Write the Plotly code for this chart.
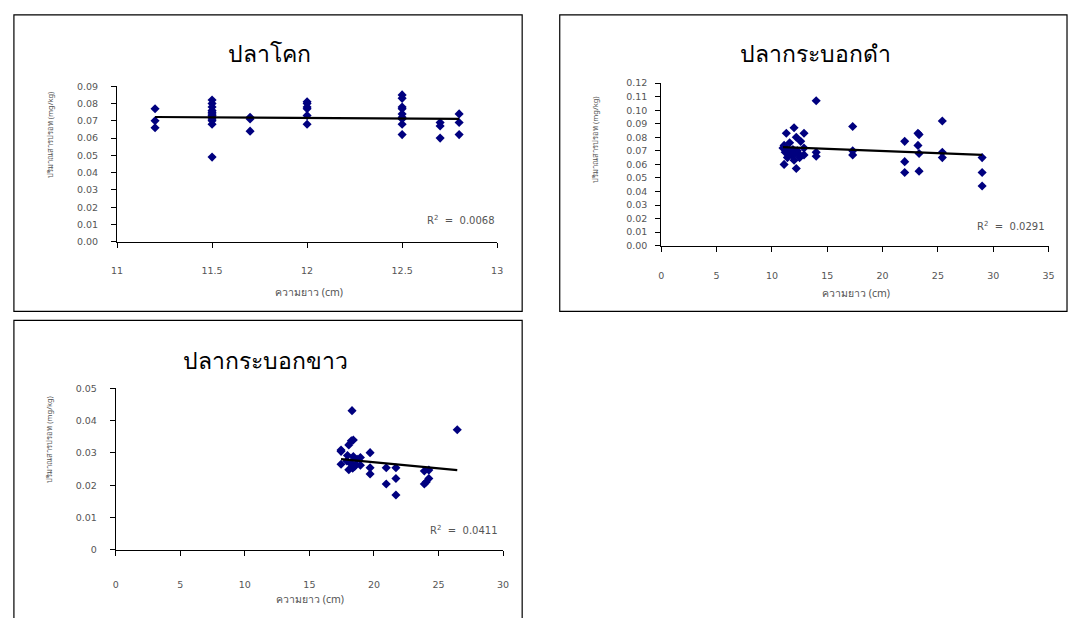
import plotly.graph_objects as go

W, H = 1074, 618

# ---------------- data ----------------
titles = ["ปลาโคก", "ปลากระบอกดำ", "ปลากระบอกขาว"]
x_title = "ความยาว (cm)"
y_title = "ปริมาณสารปรอท (mg/kg)"
r2_labels = ["0.0068", "0.0291", "0.0411"]

kok_len = [11.2, 11.2, 11.2,
           11.5, 11.5, 11.5, 11.5, 11.5, 11.5, 11.5, 11.5, 11.5, 11.5, 11.5, 11.5,
           11.7, 11.7, 11.7,
           12.0, 12.0, 12.0, 12.0, 12.0, 12.0,
           12.5, 12.5, 12.5, 12.5, 12.5, 12.5, 12.5, 12.5, 12.5,
           12.7, 12.7, 12.7,
           12.8, 12.8, 12.8]
kok_hg = [0.077, 0.070, 0.066,
          0.082, 0.080, 0.078, 0.076, 0.075, 0.074, 0.073, 0.072, 0.071, 0.070, 0.068, 0.049,
          0.072, 0.071, 0.064,
          0.081, 0.080, 0.078, 0.077, 0.073, 0.068,
          0.085, 0.083, 0.078, 0.077, 0.074, 0.072, 0.071, 0.068, 0.062,
          0.069, 0.067, 0.060,
          0.074, 0.069, 0.062]
kok_trend_len = [11.2, 12.8]
kok_trend_hg = [0.0722, 0.0711]

dam_len = [14.0, 11.3, 12.0, 12.9, 12.2, 12.6, 11.6, 11.1, 11.0, 11.4, 12.9, 11.2, 12.3,
           11.8, 12.5, 12.9, 11.4, 12.0, 12.5, 11.1, 12.2, 14.0, 14.0, 11.7, 12.1, 11.9, 12.6,
           17.3, 17.3, 17.3, 22.0, 22.0, 22.0, 23.2, 23.3, 23.2, 23.3, 23.3,
           25.4, 25.4, 25.4, 29.0, 29.0, 29.0]
dam_hg = [0.107, 0.083, 0.087, 0.083, 0.080, 0.077, 0.076, 0.074, 0.072, 0.071, 0.072, 0.069, 0.070,
          0.067, 0.067, 0.067, 0.065, 0.063, 0.065, 0.060, 0.057, 0.069, 0.066, 0.069, 0.068, 0.071, 0.066,
          0.088, 0.070, 0.067, 0.077, 0.062, 0.054, 0.083, 0.082, 0.074, 0.068, 0.055,
          0.092, 0.069, 0.065, 0.065, 0.054, 0.044]
dam_trend_len = [11.0, 29.0]
dam_trend_hg = [0.0728, 0.0670]

khao_len = [18.3, 26.45, 18.4, 18.25, 18.05, 17.45, 17.45, 19.7, 17.95, 18.4, 18.95,
            17.45, 18.2, 18.55, 18.95, 18.05, 18.35, 19.7, 19.7, 20.95, 21.7, 21.7,
            20.95, 21.7, 23.9, 24.25, 23.9, 24.05, 24.25, 17.9, 18.7, 18.25, 18.5]
khao_hg = [0.0431, 0.0372, 0.0340, 0.0338, 0.0325, 0.0309, 0.0305, 0.0301, 0.0292, 0.0289, 0.0286,
           0.0265, 0.0270, 0.0263, 0.0262, 0.0248, 0.0253, 0.0254, 0.0235, 0.0254, 0.0254, 0.0221,
           0.0204, 0.0170, 0.0244, 0.0247, 0.0204, 0.0210, 0.0221, 0.0275, 0.0280, 0.0265, 0.0258]
khao_trend_len = [17.45, 26.45]
khao_trend_hg = [0.0281, 0.0247]

x_ranges = [[11, 13], [0, 35], [0, 30]]
x_dticks = [0.5, 5, 5]
y_ranges = [[0, 0.09], [0, 0.12], [0, 0.05]]
y_dticks = [0.01, 0.01, 0.01]
y_formats = [".2f", ".2f", None]
y3_tickvals = [0, 0.01, 0.02, 0.03, 0.04, 0.05]
y3_ticktext = ["0", "0.01", "0.02", "0.03", "0.04", "0.05"]

series = [(kok_len, kok_hg, kok_trend_len, kok_trend_hg),
          (dam_len, dam_hg, dam_trend_len, dam_trend_hg),
          (khao_len, khao_hg, khao_trend_len, khao_trend_hg)]

# ---------------- layout geometry (pixels) ----------------
boxes = [(8, 9, 522, 311), (560, 9, 1073, 311), (8, 320, 522, 630)]
plots = [(112.3, 81.7, 496.7, 240), (662.7, 78.5, 1054.3, 244), (111, 389.3, 502.7, 553.7)]
title_pos = [(266, 48), (819, 48), (262, 360)]
xt_pos = [(306, 291), (860, 292), (307, 604)]
yt_pos = [(44, 132), (595, 136), (44, 442)]
r2_pos = [(497, 218), (1053, 224), (500, 534)]
x_standoffs = [15, 16, 21]
y_standoffs = [11, 6, 11]

fig = go.Figure()
GRAY = "#555555"
FONT = "DejaVu Sans, Liberation Sans, sans-serif"
TFONT = "Noto Sans, DejaVu Sans, sans-serif"

for i, (xs, ys, tx_, ty_) in enumerate(series):
    n = "" if i == 0 else str(i + 1)
    xa, ya = "x" + n, "y" + n
    fig.add_trace(go.Scatter(x=xs, y=ys, mode="markers", xaxis=xa, yaxis=ya,
                             marker=dict(symbol="diamond", size=7, color="#00007f",
                                         line=dict(width=0)),
                             showlegend=False, hoverinfo="x+y"))
    fig.add_trace(go.Scatter(x=tx_, y=ty_, mode="lines", xaxis=xa, yaxis=ya,
                             line=dict(color="black", width=2.2),
                             showlegend=False, hoverinfo="skip"))
    x0, y0, x1, y1 = plots[i]
    ax_common = dict(showgrid=False, zeroline=False, showline=True, linecolor="black",
                     linewidth=1, ticks="outside", ticklen=5, tickcolor="black",
                     tickfont=dict(family=FONT, size=9.5, color=GRAY), fixedrange=True)
    xkw = dict(ax_common, range=x_ranges[i], dtick=x_dticks[i], tick0=x_ranges[i][0],
               domain=[x0 / W, x1 / W], anchor=ya, ticklabelstandoff=x_standoffs[i])
    ykw = dict(ax_common, range=y_ranges[i], dtick=y_dticks[i], tick0=0,
               domain=[(H - y1) / H, (H - y0) / H], anchor=xa,
               ticklabelstandoff=y_standoffs[i])
    if y_formats[i]:
        ykw["tickformat"] = y_formats[i]
    else:
        ykw["tickmode"] = "array"
        ykw["tickvals"] = y3_tickvals
        ykw["ticktext"] = y3_ticktext
    fig.layout["xaxis" + n] = xkw
    fig.layout["yaxis" + n] = ykw

    bx0, by0, bx1, by1 = boxes[i]
    fig.add_shape(type="rect", xref="paper", yref="paper",
                  x0=bx0 / W, x1=bx1 / W, y0=1 - by1 / H, y1=1 - by0 / H,
                  line=dict(color="black", width=1.2), fillcolor="rgba(0,0,0,0)", layer="below")
    px_, py_ = title_pos[i]
    fig.add_annotation(text=titles[i], x=px_ / W, y=1 - py_ / H, xref="paper", yref="paper",
                       showarrow=False, font=dict(family=TFONT, size=23, color="black"),
                       xanchor="center", yanchor="middle")
    ax_, ay_ = xt_pos[i]
    fig.add_annotation(text=x_title, x=ax_ / W, y=1 - ay_ / H, xref="paper", yref="paper",
                       showarrow=False, font=dict(family=TFONT, size=10.5, color=GRAY),
                       xanchor="center", yanchor="middle")
    yx_, yy_ = yt_pos[i]
    fig.add_annotation(text=y_title, x=yx_ / W, y=1 - yy_ / H, xref="paper", yref="paper",
                       showarrow=False, textangle=-90,
                       font=dict(family=TFONT, size=7.5, color=GRAY),
                       xanchor="center", yanchor="middle")
    rx, ry = r2_pos[i]
    fig.add_annotation(text="R<sup>2</sup>  =  " + r2_labels[i], x=rx / W, y=1 - ry / H,
                       xref="paper", yref="paper", showarrow=False,
                       font=dict(family=FONT, size=10, color=GRAY),
                       xanchor="right", yanchor="middle")

fig.update_layout(width=W, height=H, margin=dict(l=0, r=0, t=0, b=0),
                  paper_bgcolor="white", plot_bgcolor="white", showlegend=False)

fig.write_html("out.html")
